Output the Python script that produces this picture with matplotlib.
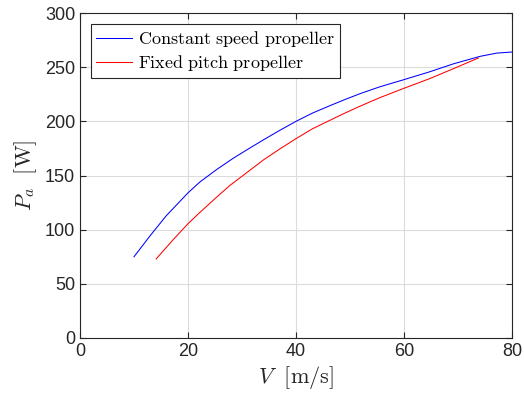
import matplotlib
matplotlib.use("Agg")
import matplotlib.pyplot as plt

# Values
v_const = [10, 13, 16, 20, 22.2, 25.3, 28.4, 31.5, 34, 37, 40, 43, 46.3,
           49, 52, 55.6, 60, 64.8, 69.1, 74.1, 77.2, 80]
p_const = [75, 94.5, 113, 134, 144, 155.5, 166, 175.5, 183, 191.7, 200,
           207.5, 214.5, 220, 225.8, 232, 238.5, 245.8, 253, 260, 263, 264]

v_fixed = [14.1, 17.3, 20, 22, 25.3, 27.8, 31.5, 34, 37, 40, 43, 46.3, 49,
           52, 55.6, 60, 64.8, 69.1, 73.8]
p_fixed = [73, 91, 105.5, 115, 130, 141, 155, 164.5, 174.5, 184, 193,
           201, 207.5, 214.3, 222, 230.5, 239.5, 248.5, 258.5]

x_ticks = [0, 20, 40, 60, 80]
y_ticks = [0, 50, 100, 150, 200, 250, 300]

plt.rcParams["mathtext.fontset"] = "cm"
plt.rcParams["font.family"] = "Liberation Sans"

fig = plt.figure(figsize=(5.24, 4.03), dpi=100)
ax = fig.add_axes([0.1527, 0.1613, 0.8243, 0.8064])

ax.plot(v_const, p_const, color="blue", lw=0.75,
        label=r"$\mathrm{Constant\ speed\ propeller}$")
ax.plot(v_fixed, p_fixed, color="red", lw=0.75,
        label=r"$\mathrm{Fixed\ pitch\ propeller}$")

ax.set_xlim(0, 80)
ax.set_ylim(0, 300)
ax.set_xticks(x_ticks)
ax.set_yticks(y_ticks)
ax.grid(color="#dcdcdc", lw=0.8)
ax.set_axisbelow(True)
ax.tick_params(direction="in", top=True, right=True, labelsize=13,
               colors="#262626", length=4, width=0.8)
for s in ax.spines.values():
    s.set_color("#262626")
    s.set_linewidth(0.8)

ax.set_xlabel(r"$V\ \ [\mathrm{m/s}]$", fontsize=16, color="#262626", labelpad=3)
ax.set_ylabel(r"$P_a\ \ [\mathrm{W}]$", fontsize=16, color="#262626", labelpad=4)

leg = ax.legend(loc="upper left", fontsize=13, handlelength=2.0,
                handletextpad=0.3, borderpad=0.3, labelspacing=0.2,
                borderaxespad=0.6, fancybox=False, framealpha=1)
leg.get_frame().set_edgecolor("#262626")
leg.get_frame().set_linewidth(0.8)

fig.savefig("out.png", dpi=100)
